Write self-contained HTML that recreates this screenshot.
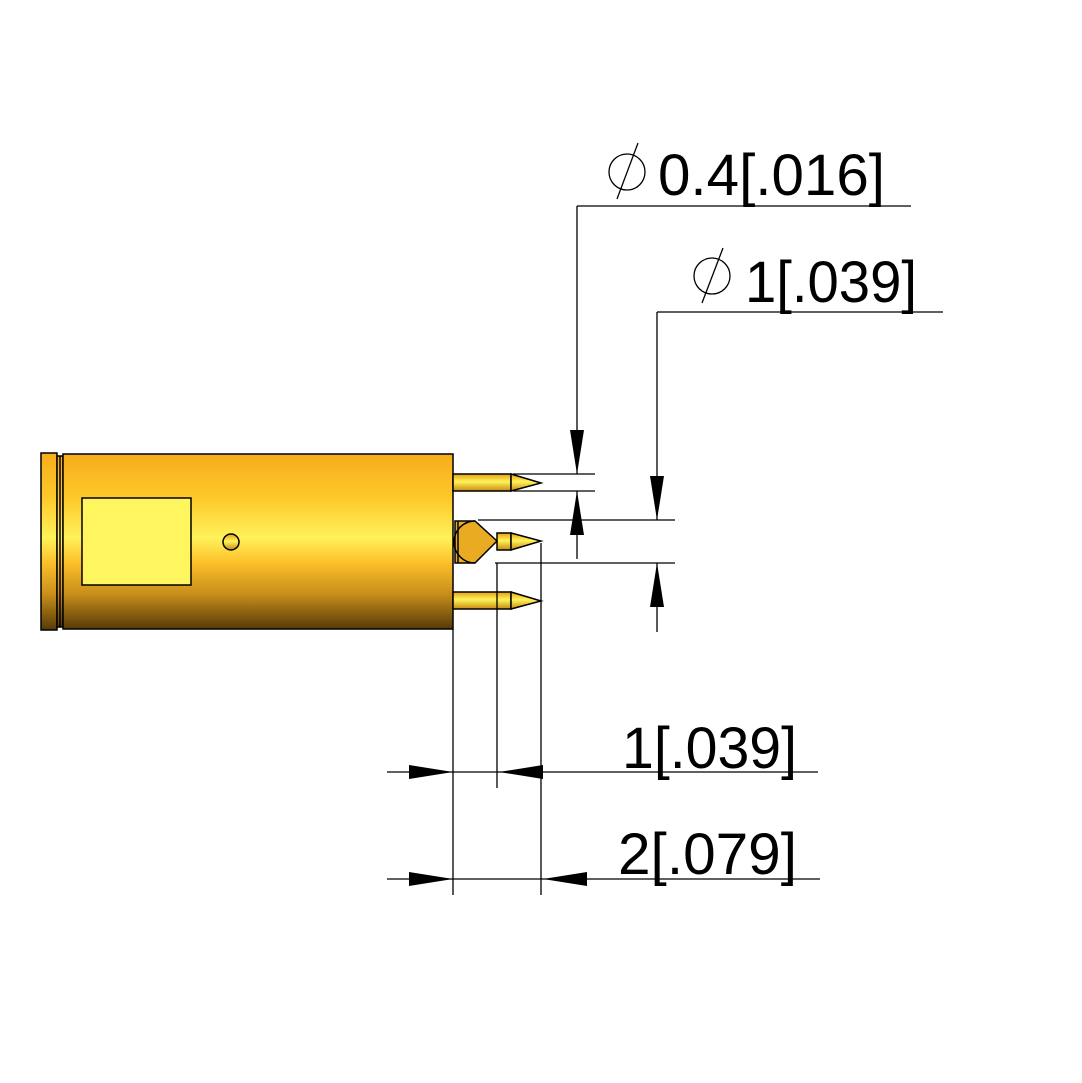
<!DOCTYPE html>
<html><head><meta charset="utf-8"><style>
html,body{margin:0;padding:0;background:#fff;}
svg{display:block;}
text{font-family:"Liberation Sans",sans-serif;fill:#000;}
</style></head><body>
<svg width="1082" height="1083" viewBox="0 0 1082 1083" xmlns="http://www.w3.org/2000/svg">
<defs>
<linearGradient id="g" x1="0" y1="0" x2="0" y2="1">
<stop offset="0" stop-color="#f7ad1c"/>
<stop offset="0.25" stop-color="#fdc82a"/>
<stop offset="0.48" stop-color="#fff25a"/>
<stop offset="0.62" stop-color="#fcc02a"/>
<stop offset="0.8" stop-color="#c88e1a"/>
<stop offset="1" stop-color="#553a08"/>
</linearGradient>
<linearGradient id="p" x1="0" y1="0" x2="0" y2="1">
<stop offset="0" stop-color="#e8a010"/>
<stop offset="0.45" stop-color="#fff45a"/>
<stop offset="1" stop-color="#c88a10"/>
</linearGradient>
</defs>
<g stroke="#000" stroke-width="1.5">
<rect x="41" y="453" width="16" height="177" fill="url(#g)"/>
<rect x="57" y="456" width="6" height="171" fill="url(#g)"/>
<line x1="60" y1="456" x2="60" y2="627"/>
<rect x="63" y="454" width="390" height="175" fill="url(#g)"/>
<rect x="82" y="498" width="109" height="87" fill="#fff65f"/>
<circle cx="231" cy="542" r="8" fill="url(#p)"/>
<!-- pins -->
<rect x="453" y="474" width="58" height="17" fill="url(#p)"/>
<polygon points="511,474 541,483 511,491" fill="url(#p)"/>
<rect x="453" y="592" width="58" height="17" fill="url(#p)"/>
<polygon points="511,592 541,601 511,609" fill="url(#p)"/>
<rect x="497" y="533" width="14" height="17" fill="url(#p)"/>
<polygon points="511,533 541,541 511,550" fill="url(#p)"/>
<path d="M455,521 L475,521 L497,541 L475,563 L455,563 Z" fill="#e9ab22"/>
<line x1="458" y1="521" x2="458" y2="563"/>
<path d="M475,521 A21,21 0 0 0 475,563" fill="none"/>
</g>
<g stroke="#000" stroke-width="1.3" fill="none">
<!-- vertical dims -->
<line x1="513" y1="474" x2="595" y2="474"/>
<line x1="513" y1="491" x2="595" y2="491"/>
<line x1="478" y1="520" x2="675" y2="520"/>
<line x1="495" y1="563" x2="675" y2="563"/>
<line x1="577" y1="206" x2="577" y2="474"/>
<line x1="577" y1="491" x2="577" y2="559"/>
<line x1="577" y1="206" x2="911" y2="206"/>
<line x1="657" y1="312" x2="657" y2="520"/>
<line x1="657" y1="563" x2="657" y2="632"/>
<line x1="657" y1="312" x2="943" y2="312"/>
<!-- horizontal dims -->
<line x1="453" y1="629" x2="453" y2="895"/>
<line x1="497" y1="563" x2="497" y2="788"/>
<line x1="541" y1="543" x2="541" y2="895"/>
<line x1="387" y1="772" x2="818" y2="772"/>
<line x1="387" y1="879" x2="820" y2="879"/>
<!-- diameter symbols -->
<circle cx="627" cy="172" r="18"/>
<line x1="617" y1="199" x2="638" y2="143"/>
<circle cx="712" cy="276" r="18"/>
<line x1="702" y1="303" x2="723" y2="248"/>
</g>
<g fill="#000">
<polygon points="577,474 570,430 584,430"/>
<polygon points="577,491 570,535 584,535"/>
<polygon points="657,520 650,476 664,476"/>
<polygon points="657,563 650,607 664,607"/>
<polygon points="453,772 409,765 409,779"/>
<polygon points="499,772 543,765 543,779"/>
<polygon points="453,879 409,872 409,886"/>
<polygon points="543,879 587,872 587,886"/>
</g>
<text x="658" y="195" font-size="58" textLength="227" lengthAdjust="spacingAndGlyphs">0.4[.016]</text>
<text x="745" y="302" font-size="58" textLength="172" lengthAdjust="spacingAndGlyphs">1[.039]</text>
<text x="622" y="768" font-size="58" textLength="175" lengthAdjust="spacingAndGlyphs">1[.039]</text>
<text x="618" y="874" font-size="58" textLength="179" lengthAdjust="spacingAndGlyphs">2[.079]</text>
</svg>
</body></html>
